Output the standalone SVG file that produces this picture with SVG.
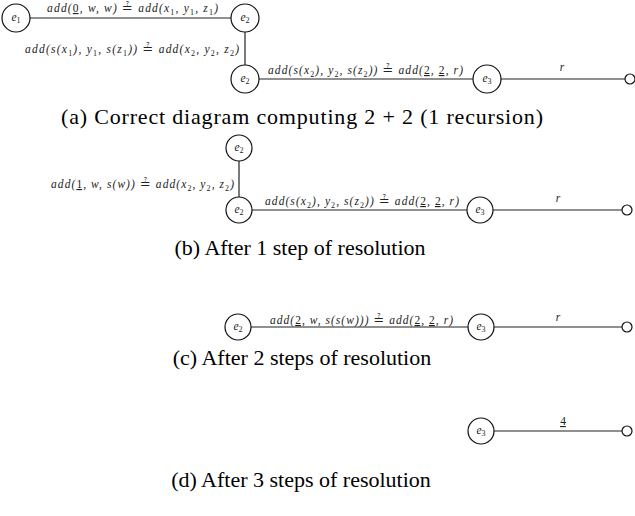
<svg xmlns="http://www.w3.org/2000/svg" width="635" height="516" viewBox="0 0 635 516">
<style>
.bg{fill:#fff}
.node{fill:#fff;stroke:#111;stroke-width:1.2}
.end{fill:#fff;stroke:#111;stroke-width:1.2}
.edge{stroke:#222;stroke-width:1.2;fill:none}
.m{font-family:"Liberation Serif",serif;font-style:italic;font-size:11.5px;fill:#222}
.e{font-family:"Liberation Serif",serif;font-style:italic;font-size:11.5px;fill:#222;text-anchor:middle}
.s{font-size:8px;font-style:normal}
.u{font-style:normal;text-decoration:underline}
.qe{font-family:"DejaVu Sans",sans-serif;font-style:normal;font-size:13px}
.cap{font-family:"Liberation Serif",serif;font-size:22px;fill:#000;text-anchor:middle}
</style>
<rect class="bg" x="0" y="0" width="635" height="516"/>

<g id="connectors">
  <line class="edge" x1="30" y1="18" x2="231" y2="18"/>
  <line class="edge" x1="245" y1="32" x2="245" y2="65"/>
  <line class="edge" x1="259" y1="79" x2="473" y2="79"/>
  <line class="edge" x1="501" y1="79" x2="625" y2="79"/>
  <line class="edge" x1="239" y1="161" x2="239" y2="197"/>
  <line class="edge" x1="252" y1="210" x2="467" y2="210"/>
  <line class="edge" x1="493" y1="210" x2="622" y2="210"/>
  <line class="edge" x1="251" y1="327" x2="468" y2="327"/>
  <line class="edge" x1="494" y1="327" x2="622" y2="327"/>
  <line class="edge" x1="494" y1="431" x2="622" y2="431"/>
</g>

<g id="edge-labels">
  <text class="m" x="47" y="12" textLength="171" lengthAdjust="spacing">add(<tspan class="u">0</tspan>, w, w) <tspan class="qe">≟</tspan> add(x<tspan class="s" dy="2.5">1</tspan><tspan dy="-2.5">, y</tspan><tspan class="s" dy="2.5">1</tspan><tspan dy="-2.5">, z</tspan><tspan class="s" dy="2.5">1</tspan><tspan dy="-2.5">)</tspan></text>
  <text class="m" x="25" y="53" textLength="214" lengthAdjust="spacing">add(s(x<tspan class="s" dy="2.5">1</tspan><tspan dy="-2.5">), y</tspan><tspan class="s" dy="2.5">1</tspan><tspan dy="-2.5">, s(z</tspan><tspan class="s" dy="2.5">1</tspan><tspan dy="-2.5">)) </tspan><tspan class="qe">≟</tspan> add(x<tspan class="s" dy="2.5">2</tspan><tspan dy="-2.5">, y</tspan><tspan class="s" dy="2.5">2</tspan><tspan dy="-2.5">, z</tspan><tspan class="s" dy="2.5">2</tspan><tspan dy="-2.5">)</tspan></text>
  <text class="m" x="268" y="74" textLength="195" lengthAdjust="spacing">add(s(x<tspan class="s" dy="2.5">2</tspan><tspan dy="-2.5">), y</tspan><tspan class="s" dy="2.5">2</tspan><tspan dy="-2.5">, s(z</tspan><tspan class="s" dy="2.5">2</tspan><tspan dy="-2.5">)) </tspan><tspan class="qe">≟</tspan> add(<tspan class="u">2</tspan>, <tspan class="u">2</tspan>, r)</text>
  <text class="m" x="562" y="71" text-anchor="middle">r</text>

  <text class="m" x="51" y="188" textLength="183" lengthAdjust="spacing">add(<tspan class="u">1</tspan>, w, s(w)) <tspan class="qe">≟</tspan> add(x<tspan class="s" dy="2.5">2</tspan><tspan dy="-2.5">, y</tspan><tspan class="s" dy="2.5">2</tspan><tspan dy="-2.5">, z</tspan><tspan class="s" dy="2.5">2</tspan><tspan dy="-2.5">)</tspan></text>
  <text class="m" x="265" y="205" textLength="194" lengthAdjust="spacing">add(s(x<tspan class="s" dy="2.5">2</tspan><tspan dy="-2.5">), y</tspan><tspan class="s" dy="2.5">2</tspan><tspan dy="-2.5">, s(z</tspan><tspan class="s" dy="2.5">2</tspan><tspan dy="-2.5">)) </tspan><tspan class="qe">≟</tspan> add(<tspan class="u">2</tspan>, <tspan class="u">2</tspan>, r)</text>
  <text class="m" x="558" y="202" text-anchor="middle">r</text>

  <text class="m" x="270" y="324" textLength="183" lengthAdjust="spacing">add(<tspan class="u">2</tspan>, w, s(s(w))) <tspan class="qe">≟</tspan> add(<tspan class="u">2</tspan>, <tspan class="u">2</tspan>, r)</text>
  <text class="m" x="558" y="321" text-anchor="middle">r</text>

  <text class="m" x="563" y="425" text-anchor="middle"><tspan class="u">4</tspan></text>
</g>

<g id="n-a-e1"><circle class="node" cx="16" cy="18" r="14"/><text class="e" x="16" y="21">e<tspan class="s" dy="2">1</tspan></text></g>
<g id="n-a-e2-top"><circle class="node" cx="245" cy="18" r="14"/><text class="e" x="245" y="21">e<tspan class="s" dy="2">2</tspan></text></g>
<g id="n-a-e2-bot"><circle class="node" cx="245" cy="79" r="14"/><text class="e" x="245" y="82">e<tspan class="s" dy="2">2</tspan></text></g>
<g id="n-a-e3"><circle class="node" cx="487" cy="79" r="14"/><text class="e" x="487" y="82">e<tspan class="s" dy="2">3</tspan></text></g>
<g id="n-a-out"><circle class="end" cx="630" cy="79" r="5"/></g>

<g id="n-b-e2-top"><circle class="node" cx="239" cy="148" r="13"/><text class="e" x="239" y="151">e<tspan class="s" dy="2">2</tspan></text></g>
<g id="n-b-e2-bot"><circle class="node" cx="239" cy="210" r="13"/><text class="e" x="239" y="213">e<tspan class="s" dy="2">2</tspan></text></g>
<g id="n-b-e3"><circle class="node" cx="480" cy="210" r="13"/><text class="e" x="480" y="213">e<tspan class="s" dy="2">3</tspan></text></g>
<g id="n-b-out"><circle class="end" cx="627" cy="210" r="5"/></g>

<g id="n-c-e2"><circle class="node" cx="238" cy="327" r="13"/><text class="e" x="238" y="330">e<tspan class="s" dy="2">2</tspan></text></g>
<g id="n-c-e3"><circle class="node" cx="481" cy="327" r="13"/><text class="e" x="481" y="330">e<tspan class="s" dy="2">3</tspan></text></g>
<g id="n-c-out"><circle class="end" cx="627" cy="327" r="5"/></g>

<g id="n-d-e3"><circle class="node" cx="481" cy="431" r="13"/><text class="e" x="481" y="434">e<tspan class="s" dy="2">3</tspan></text></g>
<g id="n-d-out"><circle class="end" cx="627" cy="431" r="5"/></g>

<g id="captions">
  <text class="cap" x="302" y="124" font-size="23" textLength="482" lengthAdjust="spacing">(a) Correct diagram computing 2 + 2 (1 recursion)</text>
  <text class="cap" x="300" y="255">(b) After 1 step of resolution</text>
  <text class="cap" x="302" y="365">(c) After 2 steps of resolution</text>
  <text class="cap" x="301" y="487">(d) After 3 steps of resolution</text>
</g>
</svg>
